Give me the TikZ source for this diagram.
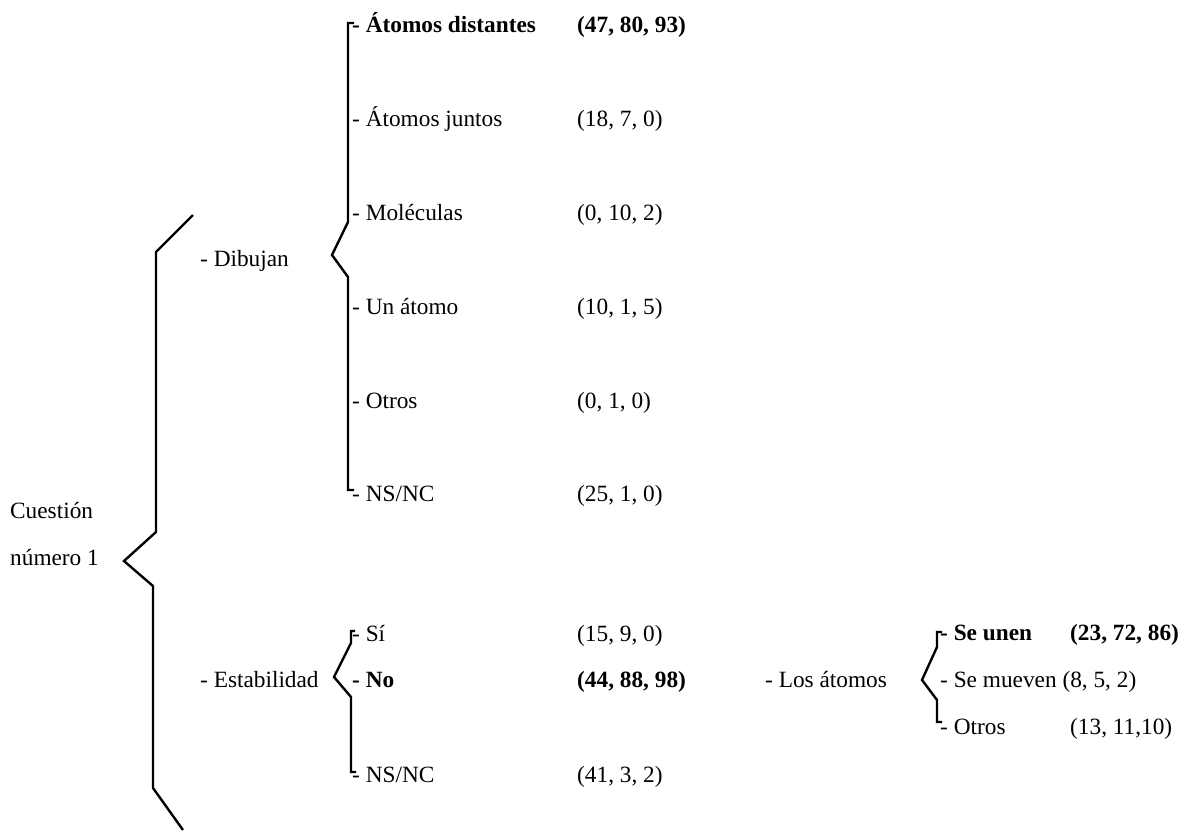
\documentclass[tikz,border=0pt]{standalone}
\usepackage{fontspec}
\setmainfont{Liberation Serif}
\usetikzlibrary{positioning}

\begin{document}
\begin{tikzpicture}[
    x=1pt, y=-1pt,
    item/.style={anchor=base west, inner sep=0pt, font=\fontsize{23.3}{28}\selectfont},
    best/.style={item, font=\fontsize{23.3}{28}\selectfont\bfseries},
    brace/.style={line width=2.4pt, line join=miter, line cap=butt}
]
\useasboundingbox (0,0) rectangle (1184,831);

% Root
\node[item] (cuestion) at (10,518) {Cuestión};
\node[item] (numero) at (10,565) {número 1};

% Branch 1: Dibujan
\node[item] (dibujan) at (200,266) {- Dibujan};
\node[best] (distantes) at (352,32) {- Átomos distantes};
\node[item] (juntos) at (352,126) {- Átomos juntos};
\node[item] (moleculas) at (352,220) {- Moléculas};
\node[item] (unatomo) at (352,314) {- Un átomo};
\node[item] (otros) at (352,408) {- Otros};
\node[item] (nsnc) at (352,501) {- NS/NC};

\node[best] (vdistantes) at (577,32) {(47, 80, 93)};
\node[item] (vjuntos) at (577,126) {(18, 7, 0)};
\node[item] (vmoleculas) at (577,220) {(0, 10, 2)};
\node[item] (vunatomo) at (577,314) {(10, 1, 5)};
\node[item] (votros) at (577,408) {(0, 1, 0)};
\node[item] (vnsnc) at (577,501) {(25, 1, 0)};

% Branch 2: Estabilidad
\node[item] (estab) at (200,687) {- Estabilidad};
\node[item] (si) at (352,641) {- Sí};
\node[best] (no) at (352,687) {- No};
\node[item] (nsnc2) at (352,782) {- NS/NC};

\node[item] (vsi) at (577,641) {(15, 9, 0)};
\node[best] (vno) at (577,687) {(44, 88, 98)};
\node[item] (vnsnc2) at (577,782) {(41, 3, 2)};

% Sub-branch: Los átomos
\node[item] (losatomos) at (765,687) {- Los átomos};
\node[best] (unen) at (940,640) {- Se unen};
\node[item] (mueven) at (940,687) {- Se mueven (8, 5, 2)};
\node[item] (otros2) at (940,734) {- Otros};
\node[best] (vunen) at (1070,640) {(23, 72, 86)};
\node[item] (votros2) at (1070,734) {(13, 11,10)};

% === Braces ===
\draw[brace] (193,215) -- (156,252) -- (156,532) -- (124,561) -- (153,586) -- (153,788) -- (183,830);
\draw[brace] (354,23) -- (348,23) -- (348,222) -- (332,255) -- (348,277) -- (348,490) -- (354,490);
\draw[brace] (355,631) -- (351,631) -- (351,643) -- (334,677) -- (351,697) -- (351,772) -- (356,772);
\draw[brace] (942,632) -- (937,632) -- (937,647) -- (922,680) -- (937,700) -- (937,722) -- (942,722);

\end{tikzpicture}
\end{document}
